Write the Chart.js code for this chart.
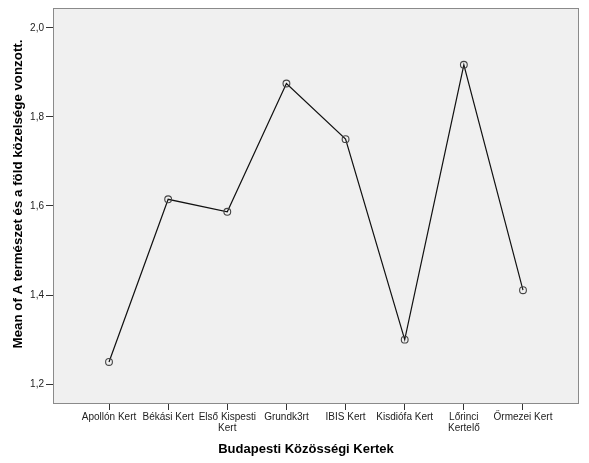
<!DOCTYPE html>
<html>
<head>
<meta charset="utf-8">
<script src="https://cdn.jsdelivr.net/npm/chart.js@4/dist/chart.umd.min.js"></script>
<style>
html,body{margin:0;padding:0;background:#fff;}
#wrap{width:589px;height:463px;position:relative;}
</style>
</head>
<body>
<div id="wrap"><canvas id="c" width="589" height="463"></canvas></div>
<script>
const categories = ["Apollón Kert", "Békási Kert", ["Első Kispesti", "Kert"], "Grundk3rt", "IBIS Kert", "Kisdiófa Kert", ["Lőrinci", "Kertelő"], "Őrmezei Kert"];
const meanValues = [1.25, 1.615, 1.587, 1.875, 1.75, 1.30, 1.917, 1.411];
const yTicks = [1.2, 1.4, 1.6, 1.8, 2.0];
const xTitle = "Budapesti Közösségi Kertek";
const yTitle = "Mean of A természet és a föld közelsége vonzott.";

const FONT = "'Liberation Sans', Arial, sans-serif";

const framePlugin = {
  id: 'frame',
  beforeDatasetsDraw(chart) {
    const a = chart.chartArea, ctx = chart.ctx;
    ctx.save();
    ctx.fillStyle = '#f0f0f0';
    ctx.fillRect(a.left, a.top, a.right - a.left, a.bottom - a.top);
    ctx.strokeStyle = '#8a8a8a';
    ctx.lineWidth = 1;
    ctx.strokeRect(a.left + 0.5, a.top + 0.5, a.right - a.left - 1, a.bottom - a.top - 1);
    ctx.restore();
  },
  afterDraw(chart) {
    const ctx = chart.ctx;
    ctx.save();
    ctx.fillStyle = '#000';
    ctx.font = "bold 13px " + FONT;
    ctx.textAlign = 'center';
    ctx.textBaseline = 'middle';
    ctx.fillText(xTitle, 306, 449);
    ctx.translate(18, 194);
    ctx.rotate(-Math.PI / 2);
    ctx.font = "bold 13.3px " + FONT;
    ctx.fillText(yTitle, 0, 0);
    ctx.restore();
  }
};

new Chart(document.getElementById('c'), {
  type: 'line',
  data: {
    datasets: [{
      data: meanValues.map((v, i) => ({x: i, y: v})),
      borderColor: '#111',
      borderWidth: 1.2,
      pointRadius: 3.4,
      pointBorderColor: '#444',
      pointBorderWidth: 1.1,
      pointBackgroundColor: 'rgba(0,0,0,0)',
      tension: 0,
      fill: false
    }]
  },
  options: {
    responsive: false,
    animation: false,
    events: [],
    layout: {padding: {top: 4, right: 10, left: 0, bottom: 0}},
    plugins: {legend: {display: false}, tooltip: {enabled: false}},
    scales: {
      x: {
        type: 'linear',
        min: -0.947,
        max: 7.947,
        afterBuildTicks(s) { s.ticks = categories.map((c, i) => ({value: i})); },
        afterFit(s) { s.height = 59; },
        grid: {drawOnChartArea: false, drawTicks: true, tickLength: 6, color: '#333'},
        border: {display: false},
        ticks: {
          autoSkip: false, maxRotation: 0, minRotation: 0, padding: 2,
          color: '#222', font: {family: FONT, size: 10, lineHeight: 1.05},
          callback: (v) => categories[Math.round(v)]
        }
      },
      y: {
        min: 1.1556,
        max: 2.0444,
        afterBuildTicks(s) { s.ticks = yTicks.map(v => ({value: v})); },
        afterFit(s) { s.width = 53; },
        grid: {drawOnChartArea: false, drawTicks: true, tickLength: 7, color: '#333'},
        border: {display: false},
        ticks: {
          padding: 2, color: '#222', font: {family: FONT, size: 10},
          callback: (v) => v.toFixed(1).replace('.', ',')
        }
      }
    }
  },
  plugins: [framePlugin]
});
</script>
</body>
</html>
